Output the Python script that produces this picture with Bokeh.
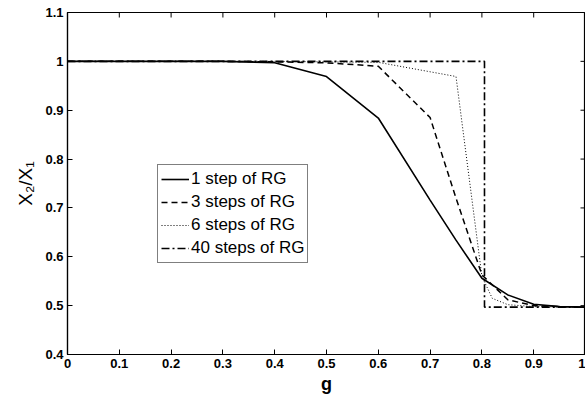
import math
from bokeh.plotting import figure
from bokeh.models import FixedTicker, Legend, LegendItem, Range1d
from bokeh.embed import file_html
from bokeh.resources import INLINE

# ---- data ----
g_1 = [0.0, 0.1, 0.2, 0.3, 0.4, 0.5, 0.6, 0.7, 0.75, 0.8, 0.85, 0.9, 0.95, 1.0]
r_1 = [1.0, 1.0, 1.0, 1.0, 0.997, 0.969, 0.884, 0.716, 0.634, 0.556, 0.522, 0.503, 0.498, 0.497]

g_3 = [0.0, 0.1, 0.2, 0.3, 0.4, 0.5, 0.6, 0.7, 0.75, 0.8, 0.85, 0.9, 0.95, 1.0]
r_3 = [1.0, 1.0, 1.0, 1.0, 0.999, 0.997, 0.990, 0.885, 0.720, 0.563, 0.512, 0.500, 0.498, 0.497]

g_6 = [0.0, 0.1, 0.2, 0.3, 0.4, 0.5, 0.6, 0.75, 0.8, 0.82, 0.85, 0.9, 1.0]
r_6 = [1.0, 1.0, 1.0, 1.0, 1.0, 0.999, 0.998, 0.969, 0.560, 0.515, 0.502, 0.498, 0.497]

g_40 = [0.0, 0.1, 0.2, 0.3, 0.4, 0.5, 0.6, 0.7, 0.8, 0.805, 0.805, 0.9, 1.0]
r_40 = [1.0, 1.0, 1.0, 1.0, 1.0, 1.0, 1.0, 1.0, 1.0, 1.0, 0.497, 0.497, 0.497]

series_labels = ["1 step of RG", "3 steps of RG", "6 steps of RG", "40 steps of RG"]

x_ticks = [0.0, 0.1, 0.2, 0.3, 0.4, 0.5, 0.6, 0.7, 0.8, 0.9, 1.0]
x_tick_labels = ["0", "0.1", "0.2", "0.3", "0.4", "0.5", "0.6", "0.7", "0.8", "0.9", "1"]
y_ticks = [0.4, 0.5, 0.6, 0.7, 0.8, 0.9, 1.0, 1.1]
y_tick_labels = ["0.4", "0.5", "0.6", "0.7", "0.8", "0.9", "1", "1.1"]

FONT = "Liberation Sans"

p = figure(width=585, height=400, output_backend="svg", toolbar_location=None,
           x_range=Range1d(x_ticks[0], x_ticks[-1]), y_range=Range1d(y_ticks[0], y_ticks[-1]),
           min_border_left=67, min_border_right=0, min_border_top=12, min_border_bottom=46)
p.background_fill_color = "white"
p.border_fill_color = "white"
p.outline_line_color = "black"
p.outline_line_width = 1.2
p.xgrid.visible = False
p.ygrid.visible = False

def style_axis(ax, ticks, labels):
    ax.ticker = FixedTicker(ticks=ticks)
    ax.minor_tick_line_color = None
    ax.major_tick_in = 5
    ax.major_tick_out = 0
    ax.major_tick_line_color = "black"
    ax.axis_line_color = "black"
    ax.axis_line_width = 1.2
    ax.major_label_overrides = {t: l for t, l in zip(ticks, labels)}
    ax.major_label_text_font = FONT
    ax.major_label_text_font_style = "bold"
    ax.major_label_text_font_size = "13px"
    ax.major_label_text_color = "black"
    ax.major_label_standoff = 4
    ax.axis_label_text_color = "black"

style_axis(p.xaxis[0], x_ticks, x_tick_labels)
style_axis(p.yaxis[0], y_ticks, y_tick_labels)

p.xaxis[0].axis_label = "g"
p.xaxis[0].axis_label_text_font = FONT
p.xaxis[0].axis_label_text_font_style = "bold"
p.xaxis[0].axis_label_text_font_size = "18px"
p.xaxis[0].axis_label_standoff = 3

p.yaxis[0].axis_label = "X\u2082/X\u2081"
p.yaxis[0].axis_label_text_font = FONT
p.yaxis[0].axis_label_text_font_style = "normal"
p.yaxis[0].axis_label_text_font_size = "19px"
p.yaxis[0].axis_label_standoff = 6

# inward tick marks on the top and right edges of the box (MATLAB style)
p.scatter(x_ticks, [y_ticks[-1]] * len(x_ticks), marker="dash", size=10,
          angle=math.pi / 2, line_color="black", line_width=1)
p.scatter([x_ticks[-1]] * len(y_ticks), y_ticks, marker="dash", size=10,
          line_color="black", line_width=1)

r1 = p.line(g_1, r_1, line_color="black", line_width=1.6)
r3 = p.line(g_3, r_3, line_color="black", line_width=1.5, line_dash="6 4")
r6 = p.line(g_6, r_6, line_color="black", line_width=1.0, line_dash="1 2")
r40 = p.line(g_40, r_40, line_color="black", line_width=1.6, line_dash="8 3 2 3")

legend = Legend(items=[LegendItem(label=series_labels[0], renderers=[r1]),
                       LegendItem(label=series_labels[1], renderers=[r3]),
                       LegendItem(label=series_labels[2], renderers=[r6]),
                       LegendItem(label=series_labels[3], renderers=[r40])],
                location=(90, 91))
legend.label_text_font = FONT
legend.label_text_font_size = "17px"
legend.label_text_color = "black"
legend.label_height = 22
legend.glyph_height = 22
legend.glyph_width = 28
legend.label_standoff = 2
legend.spacing = 1
legend.padding = 3
legend.margin = 0
legend.border_line_color = "black"
legend.border_line_width = 1.2
legend.background_fill_color = "white"
legend.background_fill_alpha = 1.0
p.add_layout(legend, "center")

open("out.html", "w").write(file_html(p, INLINE))
